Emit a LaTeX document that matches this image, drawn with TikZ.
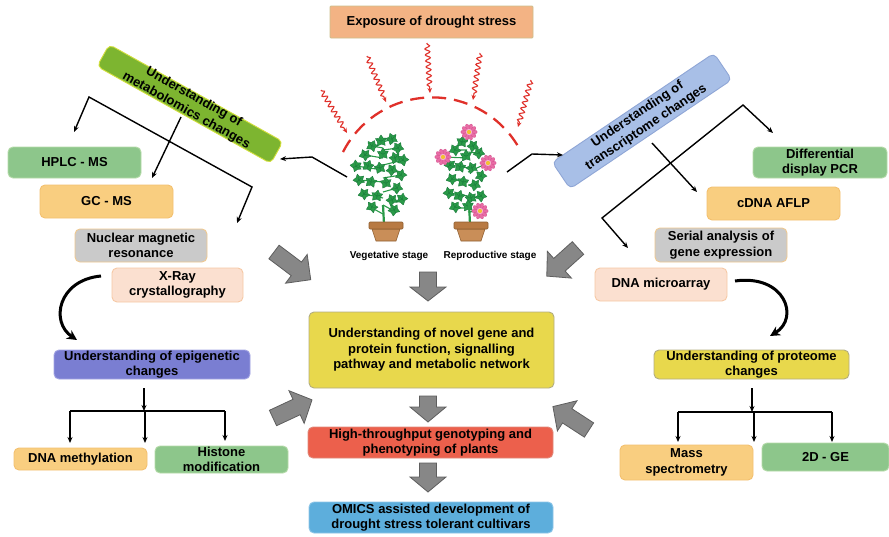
\documentclass[tikz,border=0pt]{standalone}
\usepackage{fontspec}
\setmainfont{Liberation Sans}
\usetikzlibrary{arrows.meta,decorations.pathmorphing}

% box colours
\definecolor{topfill}{HTML}{F3B384}
\definecolor{topline}{HTML}{CDBF8C}
\definecolor{gfill}{HTML}{8DC68B}
\definecolor{gline}{HTML}{B5DBA9}
\definecolor{ofill}{HTML}{F9CE80}
\definecolor{oline}{HTML}{F3C070}
\definecolor{grfill}{HTML}{CACACA}
\definecolor{grline}{HTML}{F0C990}
\definecolor{pfill}{HTML}{FBE0D0}
\definecolor{pline}{HTML}{F6C9A5}
\definecolor{epifill}{HTML}{7A7ED2}
\definecolor{epiline}{HTML}{A3A5E3}
\definecolor{yfill}{HTML}{E8D84C}
\definecolor{yline}{HTML}{B3AD80}
\definecolor{rfill}{HTML}{EC604C}
\definecolor{rline}{HTML}{E0887A}
\definecolor{bfill}{HTML}{5DAEDC}
\definecolor{bline}{HTML}{8EC6E8}
\definecolor{mfill}{HTML}{7DB530}
\definecolor{mline}{HTML}{D3DF3D}
\definecolor{tfill}{HTML}{A8BFE7}
\definecolor{tline}{HTML}{8FA6D6}
\definecolor{arrfill}{HTML}{878787}
\definecolor{arrline}{HTML}{5E5E5E}
\definecolor{wavered}{HTML}{E0302A}
\definecolor{leafgreen}{HTML}{2A9A48}
\definecolor{leafdark}{HTML}{17763A}
\definecolor{potfill}{HTML}{C98E58}
\definecolor{potrim}{HTML}{B87A43}
\definecolor{potline}{HTML}{8F5E30}
\definecolor{petal}{HTML}{E96CA5}
\definecolor{petalline}{HTML}{D24E8C}
\definecolor{petalinner}{HTML}{F5B2D2}
\definecolor{bloomcentre}{HTML}{F2C230}

% grey block arrow: name, tail point, angle, length, head length
\newcommand\grayblockarrow[5]{%
  \coordinate (#1) at (#2);
  \filldraw[garrow, shift={(#2)}, rotate=#3]
    (0,-8.5) -- ({#4-#5},-8.5) -- ({#4-#5},-18) -- (#4,0) --
    ({#4-#5},18) -- ({#4-#5},8.5) -- (0,8.5) -- cycle;}

\begin{document}
\begin{tikzpicture}[x=1pt,y=-1pt,
  every node/.style={font=\fontsize{13}{15.5}\selectfont\bfseries, text=black},
  box/.style={rounded corners=5pt, line width=0.9pt, align=center, inner sep=0pt},
  topbox/.style={box, fill=topfill, draw=topline, rounded corners=1pt},
  greenbox/.style={box, fill=gfill, draw=gline},
  orangebox/.style={box, fill=ofill, draw=oline},
  greybox/.style={box, fill=grfill, draw=grline},
  peachbox/.style={box, fill=pfill, draw=pline},
  epibox/.style={box, fill=epifill, draw=epiline},
  yellowbox/.style={box, fill=yfill, draw=yline},
  redbox/.style={box, fill=rfill, draw=rline},
  bluebox/.style={box, fill=bfill, draw=bline},
  metabbox/.style={box, fill=mfill, draw=mline},
  transbox/.style={box, fill=tfill, draw=tline},
  garrow/.style={fill=arrfill, draw=arrline, line width=0.8pt, line join=miter},
  blk/.style={draw=black, line width=1.4pt, -{Stealth[length=6pt,width=5pt]}},
  blkline/.style={draw=black, line width=1.4pt},
  curvedarrow/.style={draw=black, line width=3pt, -{Stealth[length=10pt,width=10pt]}},
  wave/.style={draw=wavered, line width=1.1pt, decorate,
    decoration={snake, amplitude=2.4pt, segment length=6pt, pre length=1pt, post length=5pt},
    -{Stealth[length=5pt,width=4.5pt]}},
  dasharc/.style={draw=wavered, line width=2.3pt, dash pattern=on 14pt off 8pt},
  stemline/.style={draw=leafgreen, line width=2.2pt},
  twig/.style={draw=leafgreen, line width=1.1pt},
  stagelabel/.style={font=\fontsize{10}{12}\selectfont\bfseries},
  leaf/.pic={
    \filldraw[fill=leafgreen, draw=leafdark, line width=0.35pt, scale=1.2]
      plot[smooth cycle, tension=0.7] coordinates
      {(0,-5) (1.8,-2.4) (4.4,-2.4) (3,0.4) (3.4,3.6) (0.5,2.6)
       (-3,4) (-3,0.7) (-4.6,-2) (-1.8,-2.3)};
    \draw[leafdark, line width=0.35pt] (0,3.2) -- (0,-3) (0,0.3) -- (-3.2,-1.5) (0,0.3) -- (3.2,-1.5);
  },
  bloom/.pic={
    \foreach \a in {0,36,...,324}
      \filldraw[fill=petal, draw=petalline, line width=0.3pt, rotate=\a]
        (5.2,0) ellipse (3.1 and 1.9);
    \fill[petalinner] (0,0) circle (3.2);
    \fill[bloomcentre] (0,0) circle (2.1);
  }
]
\fill[white] (0,0) rectangle (889,536);
\useasboundingbox (0,0) rectangle (889,536);

% ---------- drought exposure ----------
\node[topbox, minimum width=203pt, minimum height=32pt] (expo) at (431.5,22) {Exposure of drought stress};

\coordinate (ws1) at (321,90);  \coordinate (we1) at (347,133);
\coordinate (ws2) at (367,56);  \coordinate (we2) at (386,102);
\coordinate (ws3) at (427,43);  \coordinate (we3) at (430,93);
\coordinate (ws4) at (480,53);  \coordinate (we4) at (473,100);
\coordinate (ws5) at (531,80);  \coordinate (we5) at (518,127);
\foreach \i in {1,...,5} \draw[wave] (ws\i) -- (we\i);

\coordinate (arcstart) at (343,152);
\draw[dasharc] (arcstart) arc[start angle=-153, end angle=-27, radius=100];

% ---------- plants ----------
% vegetative plant
\draw[twig] (383,214) -- (372,208) (383,198) -- (364,194) (383,182) -- (359,180)
  (383,170) -- (356,166) (383,158) -- (365,155) (383,148) -- (372,146)
  (383,205) -- (394,211) (383,192) -- (397,188) (383,178) -- (401,175)
  (383,165) -- (403,160) (383,150) -- (398,148) (383,142) -- (392,139);
\foreach \lx/\ly/\la in {381/141/0, 392/139/20, 372/146/-25, 398/148/35,
  365/155/-40, 383/154/0, 395/158/20, 403/160/50,
  356/166/-60, 368/166/-20, 380/168/10, 392/170/30, 401/175/45,
  359/180/-50, 371/182/-15, 386/183/5, 397/188/35,
  364/194/-40, 377/196/-10, 392/200/25, 402/199/50,
  372/207/-30, 394/210/30}
  \pic[rotate=\la] at (\lx,\ly) {leaf};
\draw[stemline] (384,224) -- (383,205);
\filldraw[fill=potfill, draw=potline, line width=0.6pt] (372,229) -- (400,229) -- (396,241) -- (376,241) -- cycle;
\filldraw[fill=potrim, draw=potline, line width=0.6pt, rounded corners=1pt] (369,222) rectangle (403,229);
\coordinate (vegpot) at (386,241);

% reproductive plant
\draw[twig] (468,208) -- (455,208) (468,196) -- (449,193) (468,182) -- (452,179)
  (468,168) -- (450,165) (468,158) -- (443,157) (467,150) -- (455,150)
  (468,212) -- (480,211) (468,198) -- (481,196) (468,185) -- (475,185)
  (468,172) -- (488,163) (467,152) -- (479,153) (467,142) -- (469,132);
\foreach \lx/\ly/\la in {462/142/-10, 473/146/25, 455/150/-35, 466/156/0, 479/153/35,
  450/165/-50, 460/167/-15, 472/168/20, 481/176/45,
  452/179/-40, 463/182/-10, 475/185/25,
  449/193/-50, 459/196/-20, 471/198/15, 481/196/40,
  455/207/-35, 468/206/0}
  \pic[rotate=\la] at (\lx,\ly) {leaf};
\draw[stemline] (470,224) -- (469,203);
\foreach \fx/\fy in {469/132, 443/157, 488/163, 480/211}
  \pic at (\fx,\fy) {bloom};
\filldraw[fill=potfill, draw=potline, line width=0.6pt] (457,229) -- (485,229) -- (481,241) -- (461,241) -- cycle;
\filldraw[fill=potrim, draw=potline, line width=0.6pt, rounded corners=1pt] (454,222) rectangle (488,229);
\coordinate (reppot) at (471,241);

\node[stagelabel] (vegtxt) at (389,256) {Vegetative stage};
\node[stagelabel] (reptxt) at (490,256) {Reproductive stage};

% ---------- metabolomics branch ----------
\node[metabbox, rotate=-29.2, minimum width=199pt, minimum height=25pt] (metab) at (190,104) {};
\node[rotate=-29.2, align=center] (metabtxt) at (metab.center) {Understanding of\\metabolomics changes};

\coordinate (vegout) at (347,177);
\coordinate (vegbend) at (312,157);
\coordinate (metabin) at (280,159);
\draw[blk] (vegout) -- (vegbend) -- (metabin);

\node[greenbox, minimum width=133pt, minimum height=31pt] (hplc) at (74.5,162.5) {HPLC - MS};
\node[orangebox, minimum width=133pt, minimum height=33pt] (gcms) at (106.5,201.5) {GC - MS};
\node[greybox, minimum width=132pt, minimum height=33pt] (nmr) at (141,245.5) {Nuclear magnetic\\resonance};
\node[peachbox, minimum width=131pt, minimum height=34pt] (xray) at (177.5,285) {X-Ray\\crystallography};

\coordinate (lbapex) at (89,97);
\coordinate (lbend) at (252,187);
\coordinate (lbtip1) at (74,132);
\coordinate (lbtip2) at (237,223);
\coordinate (lbmid1) at (181,117);
\coordinate (lbmid2) at (152,178);
\draw[blkline, {Stealth[length=6pt,width=5pt]}-{Stealth[length=6pt,width=5pt]}]
  (lbtip1) -- (lbapex) -- (lbend) -- (lbtip2);
\draw[blk] (lbmid1) -- (lbmid2);

% ---------- epigenetics ----------
\coordinate (curveL1) at (101,276);
\coordinate (curveL2) at (77,340);
\draw[curvedarrow] (curveL1) .. controls (58,280) and (50,322) .. (curveL2);

\node[epibox, minimum width=196pt, minimum height=29pt] (epi) at (152,364.5) {Understanding of epigenetic\\changes};
\node[orangebox, minimum width=133pt, minimum height=22pt] (dnameth) at (80.5,459) {DNA methylation};
\node[greenbox, minimum width=133pt, minimum height=27pt] (histone) at (221.5,459.5) {Histone\\modification};

\coordinate (epiout) at (144,388);
\coordinate (epijoin) at (144,411);
\coordinate (epiL) at (70,411);
\coordinate (epiR) at (225,411);
\coordinate (epiM) at (145,411);
\coordinate (epiLt) at (70,443);
\coordinate (epiMt) at (145,443);
\coordinate (epiRt) at (225,441);
\draw[blk] (epiout) -- (epijoin);
\draw[blkline] (epiL) -- (epiR);
\draw[blk] (epiL) -- (epiLt);
\draw[blk] (epiM) -- (epiMt);
\draw[blk] (epiR) -- (epiRt);

% ---------- transcriptome branch ----------
\node[transbox, rotate=34, minimum width=195pt, minimum height=32pt] (trans) at (642,121) {};
\node[rotate=34, align=center] (transtxt) at (trans.center) {Understanding of\\transcriptome changes};

\coordinate (repout) at (507,172);
\coordinate (repbend) at (532,154);
\coordinate (transin) at (563,155);
\draw[blk] (repout) -- (repbend) -- (transin);

\node[greenbox, minimum width=134pt, minimum height=31pt] (ddpcr) at (820,162.5) {Differential\\display PCR};
\node[orangebox, minimum width=133pt, minimum height=33pt] (cdna) at (773.5,203.5) {cDNA AFLP};
\node[greybox, minimum width=132pt, minimum height=34pt] (sage) at (721,245) {Serial analysis of\\gene expression};
\node[peachbox, minimum width=132pt, minimum height=33pt] (array) at (661,284.5) {DNA microarray};

\coordinate (rbapex) at (743,105);
\coordinate (rbend) at (602,218);
\coordinate (rbtip1) at (773,133);
\coordinate (rbtip2) at (628,248);
\coordinate (rbmid1) at (652,143);
\coordinate (rbmid2) at (697,192);
\draw[blkline, {Stealth[length=6pt,width=5pt]}-{Stealth[length=6pt,width=5pt]}]
  (rbtip2) -- (rbend) -- (rbapex) -- (rbtip1);
\draw[blk] (rbmid1) -- (rbmid2);

% ---------- proteomics ----------
\coordinate (curveR1) at (735,281);
\coordinate (curveR2) at (770,336);
\draw[curvedarrow] (curveR1) .. controls (785,274) and (800,318) .. (curveR2);

\node[yellowbox, minimum width=195pt, minimum height=29pt] (prot) at (751.5,364.5) {Understanding of proteome\\changes};
\node[orangebox, minimum width=133pt, minimum height=35pt] (mass) at (686.5,462.5) {Mass\\spectrometry};
\node[greenbox, minimum width=127pt, minimum height=28pt] (twodge) at (825.5,457) {2D - GE};

\coordinate (protout) at (752,388);
\coordinate (protjoin) at (752,412);
\coordinate (protL) at (678,412);
\coordinate (protR) at (832,412);
\coordinate (protM) at (754,412);
\coordinate (protLt) at (678,442);
\coordinate (protMt) at (754,442);
\coordinate (protRt) at (832,442);
\draw[blk] (protout) -- (protjoin);
\draw[blkline] (protL) -- (protR);
\draw[blk] (protL) -- (protLt);
\draw[blk] (protM) -- (protMt);
\draw[blk] (protR) -- (protRt);

% ---------- central flow ----------
\node[yellowbox, minimum width=245pt, minimum height=76pt] (novel) at (431.5,350)
  {Understanding of novel gene and\\protein function, signalling\\pathway and metabolic network};
\node[redbox, minimum width=245pt, minimum height=31pt] (hts) at (430.5,442.5)
  {High-throughput genotyping and\\phenotyping of plants};
\node[bluebox, minimum width=244pt, minimum height=31pt] (omics) at (431,517.5)
  {OMICS assisted development of\\drought stress tolerant cultivars};

\grayblockarrow{gaTL}{274,252}{-37}{46}{18}
\grayblockarrow{gaTR}{578,248}{-138}{42}{17}
\grayblockarrow{gaTop}{428,272}{-90}{29}{14}
\grayblockarrow{gaMid}{428,396}{-90}{26}{15}
\grayblockarrow{gaLow}{428,463}{-90}{29}{15}
\grayblockarrow{gaBL}{273,418}{25}{43}{17}
\grayblockarrow{gaBR}{589,430}{147}{43}{17}

\end{tikzpicture}
\end{document}
